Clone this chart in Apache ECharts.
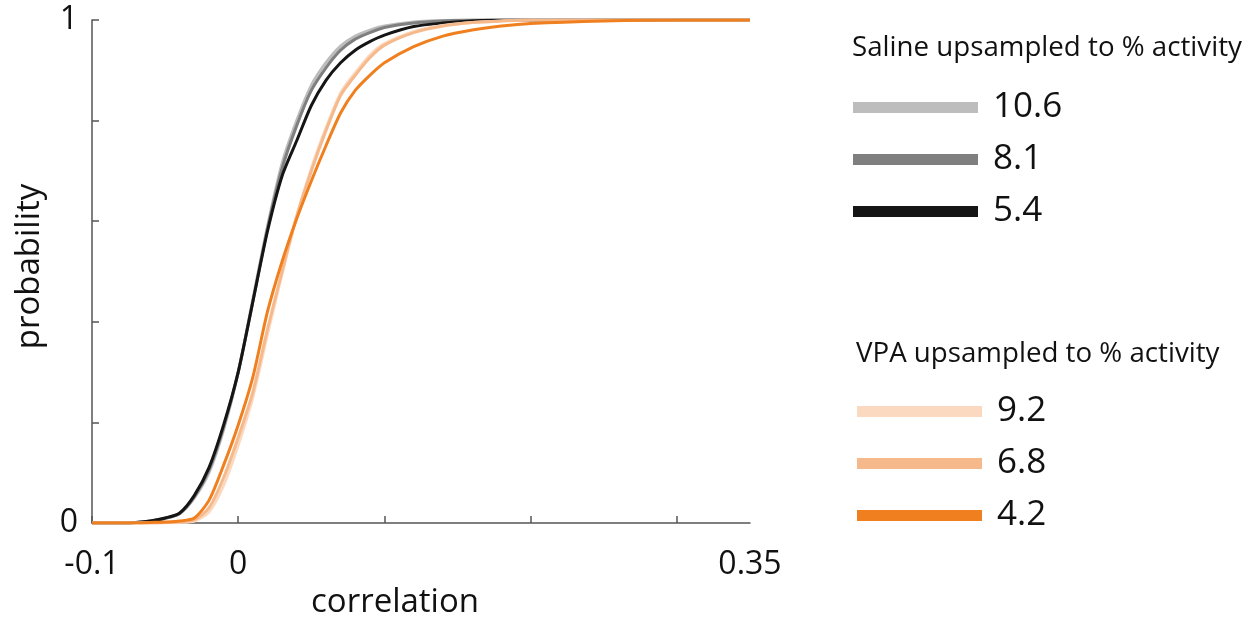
<!DOCTYPE html>
<html><head><meta charset="utf-8">
<script src="https://cdn.jsdelivr.net/npm/echarts@6/dist/echarts.min.js"></script>
<style>html,body{margin:0;padding:0;background:#fff}#c{width:1255px;height:625px}</style>
</head><body><div id="c"></div>
<script>
const xs = [-0.1,-0.08,-0.07,-0.06,-0.05,-0.04,-0.03,-0.02,-0.01,0,0.01,0.02,0.03,0.04,0.05,0.06,0.07,0.08,0.09,0.1,0.12,0.14,0.16,0.18,0.2,0.25,0.3,0.35];
const saline106 = [0,0,0.001,0.004,0.009,0.019,0.05,0.10,0.185,0.30,0.445,0.59,0.715,0.80,0.87,0.915,0.948,0.968,0.98,0.988,0.996,0.999,1,1,1,1,1,1];
const saline81  = [0,0,0.001,0.004,0.009,0.019,0.052,0.105,0.19,0.30,0.44,0.585,0.705,0.79,0.86,0.905,0.94,0.962,0.975,0.985,0.994,0.998,1,1,1,1,1,1];
const saline54  = [0,0,0.001,0.004,0.010,0.020,0.055,0.11,0.195,0.30,0.44,0.58,0.69,0.76,0.83,0.88,0.915,0.94,0.957,0.970,0.987,0.994,0.998,1,1,1,1,1];
const vpa92 = [0,0,0,0,0,0.001,0.004,0.022,0.075,0.155,0.25,0.375,0.495,0.61,0.705,0.785,0.855,0.895,0.93,0.953,0.977,0.989,0.995,0.998,1,1,1,1];
const vpa68 = [0,0,0,0,0.001,0.002,0.006,0.03,0.09,0.17,0.26,0.385,0.50,0.61,0.70,0.78,0.85,0.89,0.925,0.95,0.975,0.988,0.995,0.998,1,1,1,1];
const vpa42 = [0,0,0,0.001,0.002,0.004,0.01,0.045,0.115,0.195,0.29,0.42,0.52,0.605,0.68,0.75,0.815,0.86,0.89,0.915,0.947,0.968,0.98,0.988,0.993,0.998,1,1];
const salineNames = ['10.6','8.1','5.4'];
const vpaNames = ['9.2','6.8','4.2'];
const xTickValues = [-0.1,0,0.1,0.2,0.3];
const xLabelValues = [-0.1,0,0.35];
const yTickValues = [0,0.2,0.4,0.6,0.8,1];
const yLabelValues = [0,1];

const FONT = '"Open Sans", "Noto Sans", sans-serif';
const series = [
  {name: salineNames[0], ys: saline106, color: '#bdbdbd'},
  {name: salineNames[1], ys: saline81, color: '#7f7f7f'},
  {name: salineNames[2], ys: saline54, color: '#151515'},
  {name: vpaNames[0], ys: vpa92, color: '#fbd9c0'},
  {name: vpaNames[1], ys: vpa68, color: '#f6b98c'},
  {name: vpaNames[2], ys: vpa42, color: '#f0801f'}
].map(s => ({
  type: 'line', name: s.name, showSymbol: false, symbol: 'none',
  smooth: 0.25,
  data: xs.map((x, i) => [x, s.ys[i]]),
  lineStyle: {color: s.color, width: 3},
  itemStyle: {color: s.color},
  emphasis: {disabled: true}
}));

const chart = echarts.init(document.getElementById('c'));
const legendCommon = {
  orient: 'vertical', icon: 'rect', itemWidth: 125, itemHeight: 11, itemGap: 17,
  padding: 0, selectedMode: false,
  textStyle: {fontFamily: FONT, fontSize: 35, lineHeight: 34, color: '#111', padding: [0,0,0,10]}
};
chart.setOption({
  animation: false,
  backgroundColor: '#fff',
  title: [
    {text: 'Saline upsampled to % activity', left: 852, top: 34, padding: 0,
     textStyle: {fontFamily: FONT, fontSize: 27.7, fontWeight: 'normal', color: '#111'}},
    {text: 'VPA upsampled to % activity', left: 856, top: 340, padding: 0,
     textStyle: {fontFamily: FONT, fontSize: 27.7, fontWeight: 'normal', color: '#111'}}
  ],
  legend: [
    Object.assign({left: 853, top: 90, data: salineNames}, legendCommon),
    Object.assign({left: 857, top: 394, data: vpaNames}, legendCommon)
  ],
  grid: {left: 92, right: 505, top: 20, bottom: 102, containLabel: false},
  xAxis: {
    type: 'value', min: -0.1, max: 0.35, interval: 0.1,
    name: 'correlation', nameLocation: 'middle', nameGap: 62,
    nameTextStyle: {fontFamily: FONT, fontSize: 33, color: '#111', padding: [0, 52, 0, 0]},
    splitLine: {show: false},
    axisLine: {onZero: false, lineStyle: {color: '#555', width: 1.5}},
    axisTick: {inside: true, length: 7, lineStyle: {color: '#555', width: 1.5}, customValues: xTickValues},
    axisLabel: {fontFamily: FONT, fontSize: 32, color: '#111', margin: 26, customValues: xLabelValues,
      formatter: v => String(v)}
  },
  yAxis: {
    type: 'value', min: 0, max: 1, interval: 0.2,
    name: 'probability', nameLocation: 'middle', nameGap: 46,
    nameTextStyle: {fontFamily: FONT, fontSize: 33, color: '#111', padding: [0, 0, 0, 10]},
    splitLine: {show: false},
    axisLine: {onZero: false, lineStyle: {color: '#555', width: 1.5}},
    axisTick: {inside: true, length: 7, lineStyle: {color: '#555', width: 1.5}, customValues: yTickValues},
    axisLabel: {fontFamily: FONT, fontSize: 32, color: '#111', margin: 14, customValues: yLabelValues,
      formatter: v => String(v)}
  },
  series: series
});
</script></body></html>
